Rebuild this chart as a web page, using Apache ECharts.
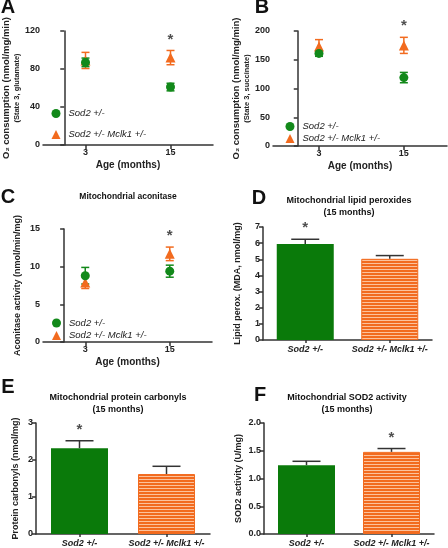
<!DOCTYPE html>
<html><head><meta charset="utf-8">
<script src="https://cdn.jsdelivr.net/npm/echarts@6/dist/echarts.min.js"></script>
<style>html,body{margin:0;padding:0;background:#fff}#c{width:448px;height:548px}</style>
</head><body><div id="c"></div>
<script>
// ---------- data ----------
const ages = [3, 15];
const seriesNames = ['Sod2 +/-', 'Sod2 +/- Mclk1 +/-'];
// Panel A (State 3, glutamate)
const aSod2 = [87, 61], aSod2Err = [4.5, 4];
const aDbl = [89, 92], aDblErr = [8.5, 7.5];
// Panel B (State 3, succinate)
const bSod2 = [161, 119], bSod2Err = [5, 9];
const bDbl = [173, 175], bDblErr = [12, 14];
// Panel C (aconitase)
const cSod2 = [8.8, 9.4], cSod2Err = [1.1, 0.8];
const cDbl = [7.9, 11.7], cDblErr = [0.8, 0.9];
// Bar panels
const barCats = ['Sod2 +/-', 'Sod2 +/- Mclk1 +/-'];
const dVals = [5.95, 5.03], dErr = [0.29, 0.2];
const eVals = [2.32, 1.62], eErr = [0.2, 0.21];
const fVals = [1.24, 1.48], fErr = [0.07, 0.06];
// significance stars
const starA = 1, starB = 1, starC = 1; // orange at 15 months
const starD = 0, starE = 0, starF = 1;

// ---------- style ----------
const GREEN = '#12891a', BGREEN = '#0a7a0a', ORANGE = '#f26b1f', AX = '#333';
const FONT = '"Liberation Sans", Arial, sans-serif';

const pc = document.createElement('canvas');
pc.width = 4; pc.height = 3;
const g = pc.getContext('2d');
g.fillStyle = '#fcc29c'; g.fillRect(0, 0, 4, 3);
g.fillStyle = ORANGE; g.fillRect(0, 0, 4, 2);
const STRIPE = { image: pc, repeat: 'repeat' };

const grids = [
  { left: 43, top: 31, width: 170, height: 114 },
  { left: 273, top: 31, width: 174, height: 115 },
  { left: 43, top: 229, width: 169, height: 113 },
  { left: 263, top: 227, width: 169, height: 113 },
  { left: 36, top: 423, width: 174, height: 113 },
  { left: 264, top: 423, width: 170, height: 113 }
];

const axLine = { show: true, lineStyle: { color: AX, width: 1.5 } };
const tick = { show: true, length: 4, lineStyle: { color: AX, width: 1.5 } };
const lab = { color: '#222', fontSize: 9, fontWeight: 'bold', fontFamily: FONT, margin: 3 };

function xVal(i, min, max) {
  return {
    gridIndex: i, type: 'value', min: min, max: max,
    splitLine: { show: false }, axisLine: axLine,
    axisTick: Object.assign({ customValues: ages }, tick),
    axisLabel: Object.assign({ customValues: ages }, lab),
    name: 'Age (months)', nameLocation: 'middle', nameGap: 15,
    nameTextStyle: { fontSize: 10, fontWeight: 'bold', fontFamily: FONT, color: '#222' }
  };
}
function xCat(i) {
  return {
    gridIndex: i, type: 'category', data: barCats,
    axisLine: axLine,
    axisTick: { show: true, alignWithLabel: true, length: 3, lineStyle: { color: AX, width: 1.5 } },
    axisLabel: Object.assign({}, lab, { fontStyle: 'italic', margin: 5, interval: 0 })
  };
}
function yVal(i, max, interval, name, gap, dec) {
  return {
    gridIndex: i, type: 'value', min: 0, max: max, interval: interval,
    splitLine: { show: false }, axisLine: axLine, axisTick: tick,
    axisLabel: Object.assign({ formatter: v => dec ? v.toFixed(dec) : String(v) }, lab),
    name: name, nameLocation: 'middle', nameGap: gap, nameRotate: 90,
    nameTextStyle: {
      fontSize: 9, fontWeight: 'bold', fontFamily: FONT, color: '#222',
      rich: {
        a: { fontSize: 9.5, fontWeight: 'bold', fontFamily: FONT, color: '#222', lineHeight: 11 },
        b: { fontSize: 7.5, fontWeight: 'bold', fontFamily: FONT, color: '#222', lineHeight: 11 }
      }
    }
  };
}

function errScatter(i, ys, es, color) {
  return {
    type: 'custom', xAxisIndex: i, yAxisIndex: i, clip: false, z: 3,
    encode: { x: 0, y: 1 },
    data: ages.map((x, k) => [x, ys[k], es[k]]),
    renderItem: (p, api) => {
      const x = api.value(0), y = api.value(1), e = api.value(2);
      const t = api.coord([x, y + e]), b = api.coord([x, y - e]);
      const w = 4, st = { stroke: color, lineWidth: 1.5 };
      return { type: 'group', children: [
        { type: 'line', shape: { x1: t[0], y1: t[1], x2: b[0], y2: b[1] }, style: st },
        { type: 'line', shape: { x1: t[0] - w, y1: t[1], x2: t[0] + w, y2: t[1] }, style: st },
        { type: 'line', shape: { x1: b[0] - w, y1: b[1], x2: b[0] + w, y2: b[1] }, style: st }
      ] };
    }
  };
}
function pts(i, name, ys, color, symbol) {
  return {
    type: 'scatter', name: name, xAxisIndex: i, yAxisIndex: i, z: 4,
    symbol: symbol, symbolSize: symbol === 'triangle' ? 10 : 9,
    itemStyle: { color: color, opacity: 1 },
    data: ages.map((x, k) => [x, ys[k]])
  };
}
function star(i, x, y, dist) {
  return {
    type: 'scatter', xAxisIndex: i, yAxisIndex: i, z: 5, symbolSize: 1,
    itemStyle: { color: 'rgba(0,0,0,0)' }, silent: true,
    data: [[x, y]],
    label: { show: true, formatter: '*', position: 'top', distance: dist,
      fontSize: 15, fontWeight: 'bold', fontFamily: FONT, color: '#222' }
  };
}
function bars(i, vals) {
  return {
    type: 'bar', xAxisIndex: i, yAxisIndex: i, barWidth: 57, z: 2,
    data: vals.map((v, k) => ({ value: v, itemStyle: k === 0
      ? { color: BGREEN }
      : { color: STRIPE, borderColor: ORANGE, borderWidth: 1 } }))
  };
}
function errBars(i, vals, es) {
  return {
    type: 'custom', xAxisIndex: i, yAxisIndex: i, clip: false, z: 3,
    encode: { x: 0, y: 1 },
    data: vals.map((v, k) => [k, v, es[k]]),
    renderItem: (p, api) => {
      const k = api.value(0), v = api.value(1), e = api.value(2);
      const t = api.coord([k, v + e]), b = api.coord([k, v]);
      const w = 14, st = { stroke: AX, lineWidth: 1.5 };
      return { type: 'group', children: [
        { type: 'line', shape: { x1: t[0], y1: t[1], x2: b[0], y2: b[1] }, style: st },
        { type: 'line', shape: { x1: t[0] - w, y1: t[1], x2: t[0] + w, y2: t[1] }, style: st }
      ] };
    }
  };
}

const legendData = [
  { name: seriesNames[0], icon: 'circle' },
  { name: seriesNames[1], icon: 'triangle' }
];
function legend(left, top, gap) {
  return {
    left: left, top: top, orient: 'vertical', itemWidth: 9, itemHeight: 9, itemGap: gap,
    padding: 0, data: legendData, selectedMode: false,
    textStyle: { fontSize: 9.5, fontStyle: 'italic', fontFamily: FONT, color: '#222', padding: [0, 0, 0, 3] }
  };
}

function txt(x, y, s, size, extra) {
  return { type: 'text', x: x, y: y, silent: true,
    style: Object.assign({ text: s, fontSize: size, fontWeight: 'bold', fontFamily: FONT,
      fill: '#111', align: 'center', verticalAlign: 'middle' }, extra || {}) };
}

const option = {
  animation: false,
  grid: grids,
  xAxis: [xVal(0, -3, 21), xVal(1, -3.5, 21.1), xVal(2, -3, 21), xCat(3), xCat(4), xCat(5)],
  yAxis: [
    yVal(0, 120, 40, '{a|O₂ consumption (nmol/mg/min)}\n{b|(State 3, glutamate)}', 20),
    yVal(1, 200, 50, '{a|O₂ consumption (nmol/mg/min)}\n{b|(State 3, succinate)}', 20),
    yVal(2, 15, 5, 'Aconitase activity (nmol/min/mg)', 21),
    yVal(3, 7, 1, 'Lipid perox. (MDA, nmol/mg)', 21),
    yVal(4, 3, 1, 'Protein carbonyls (nmol/mg)', 16),
    yVal(5, 2, 0.5, 'SOD2 activity (U/mg)', 21, 1)
  ],
  legend: [legend(51.5, 108.5, 11), legend(285.5, 121.5, 2), legend(52, 318, 2.5)],
  series: [
    errScatter(0, aDbl, aDblErr, ORANGE), pts(0, seriesNames[1], aDbl, ORANGE, 'triangle'),
    errScatter(0, aSod2, aSod2Err, GREEN), pts(0, seriesNames[0], aSod2, GREEN, 'circle'),
    star(0, ages[starA], aDbl[starA] + aDblErr[starA], 3),
    errScatter(1, bDbl, bDblErr, ORANGE), pts(1, seriesNames[1], bDbl, ORANGE, 'triangle'),
    errScatter(1, bSod2, bSod2Err, GREEN), pts(1, seriesNames[0], bSod2, GREEN, 'circle'),
    star(1, ages[starB], bDbl[starB] + bDblErr[starB], 3),
    errScatter(2, cDbl, cDblErr, ORANGE), pts(2, seriesNames[1], cDbl, ORANGE, 'triangle'),
    errScatter(2, cSod2, cSod2Err, GREEN), pts(2, seriesNames[0], cSod2, GREEN, 'circle'),
    star(2, ages[starC], cDbl[starC] + cDblErr[starC], 3),
    bars(3, dVals), errBars(3, dVals, dErr), star(3, starD, dVals[starD] + dErr[starD], 3),
    bars(4, eVals), errBars(4, eVals, eErr), star(4, starE, eVals[starE] + eErr[starE], 3),
    bars(5, fVals), errBars(5, fVals, fErr), star(5, starF, fVals[starF] + fErr[starF], 3)
  ],
  graphic: [
    txt(8, 7, 'A', 20), txt(262, 7, 'B', 20), txt(8, 197, 'C', 20),
    txt(259, 198, 'D', 20), txt(8, 387, 'E', 20), txt(260, 395, 'F', 20),
    txt(128, 197, 'Mitochondrial aconitase', 8.5),
    txt(349, 201, 'Mitochondrial lipid peroxides', 9), txt(349, 213, '(15 months)', 9),
    txt(118, 398, 'Mitochondrial protein carbonyls', 9), txt(118, 410, '(15 months)', 9),
    txt(347, 398, 'Mitochondrial SOD2 activity', 9), txt(347, 410, '(15 months)', 9)
  ]
};
const chart = echarts.init(document.getElementById('c'), null, { renderer: 'canvas' });
chart.setOption(option);
</script></body></html>
